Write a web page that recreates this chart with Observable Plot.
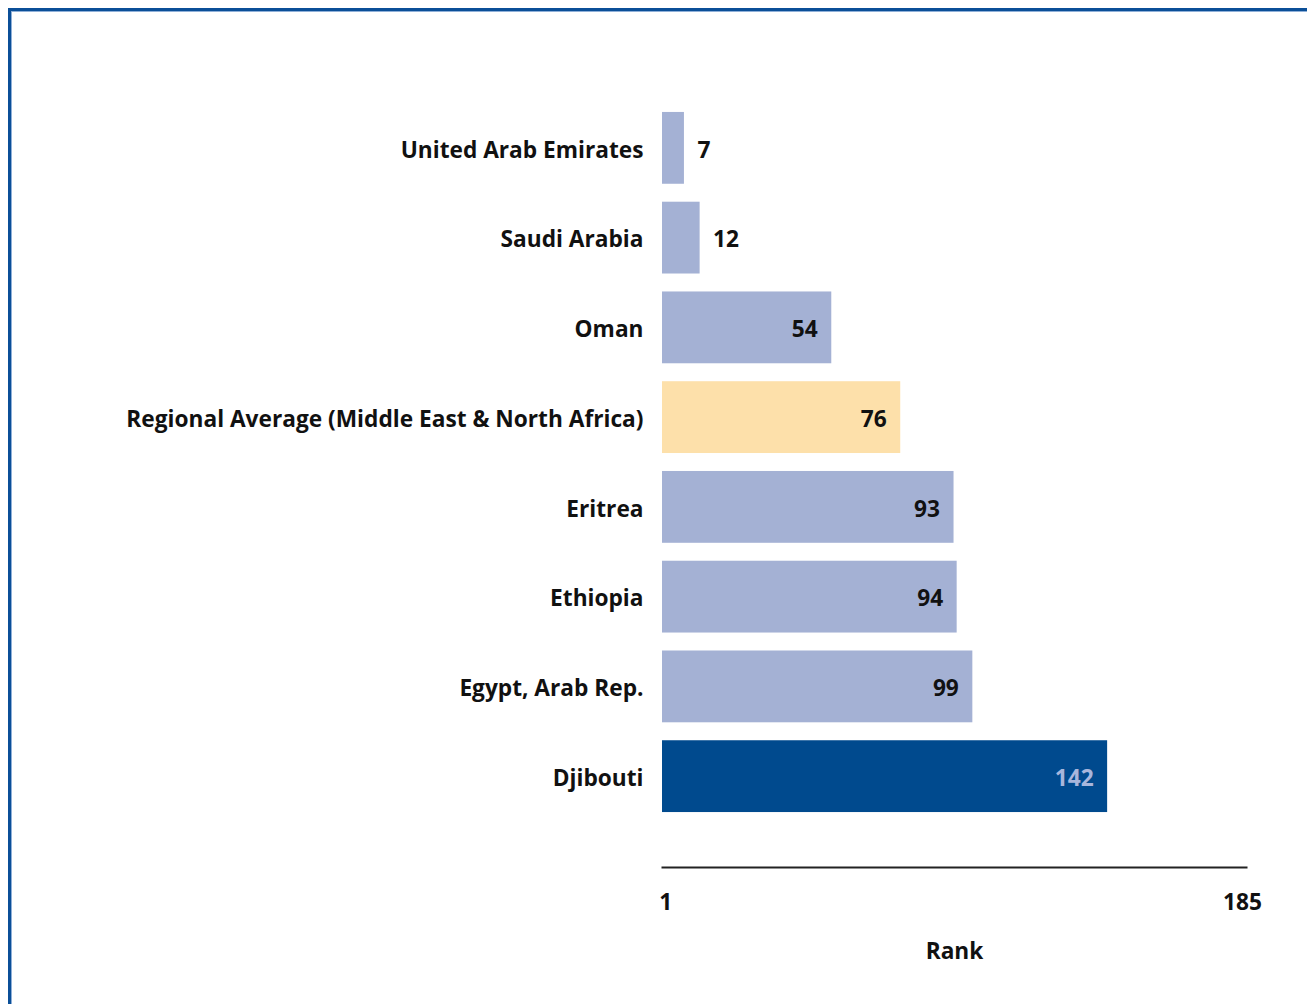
<!DOCTYPE html>
<html>
<head>
<meta charset="utf-8">
<script src="https://cdn.jsdelivr.net/npm/d3@7"></script>
<script src="https://cdn.jsdelivr.net/npm/@observablehq/plot@0.6"></script>
<style>
  html, body { margin: 0; padding: 0; background: #fff; }
  #wrap { position: relative; width: 1307px; height: 1004px; overflow: hidden; }
  #border { position: absolute; left: 8px; top: 8px; width: 1296px; height: 1100px;
    border-top: 3px solid #0b4f98; border-left: 3px solid #0b4f98; border-right: 2px solid #b5c8e2;
    box-shadow: inset 1px 1px 0 #8fb0d8; }
  #chart { position: absolute; left: 0; top: 0; }
</style>
</head>
<body>
<div id="wrap"><div id="border"></div><div id="chart"></div></div>
<script>
const countries = ["United Arab Emirates", "Saudi Arabia", "Oman", "Regional Average (Middle East & North Africa)", "Eritrea", "Ethiopia", "Egypt, Arab Rep.", "Djibouti"];
const ranks = [7, 12, 54, 76, 93, 94, 99, 142];
const kinds = ["peer", "peer", "peer", "average", "peer", "peer", "peer", "focus"];
const tickValues = [1, 185];
const axisTitle = "Rank";

const data = countries.map((c, i) => ({country: c, rank: ranks[i], kind: kinds[i]}));
const fillOf = {peer: "#a4b1d4", average: "#fde0aa", focus: "#004a8e"};
const labelColor = {peer: "#111", average: "#111", focus: "#a8b6dc"};
const font = "'Open Sans', sans-serif";
const fs = 22.7;

const chart = Plot.plot({
  width: 1307,
  height: 1004,
  marginLeft: 662,
  marginRight: 61,
  marginTop: 94,
  marginBottom: 137,
  style: {fontFamily: font, fontSize: fs + "px", fontWeight: "bold", color: "#111", background: "transparent"},
  x: {domain: [0, 186.3]},
  y: {domain: countries, range: [94, 830], padding: 0.2, round: false},
  marks: [
    Plot.barX(data, {x: "rank", y: "country", fill: d => fillOf[d.kind]}),
    Plot.text(data.filter(d => d.rank >= 20), {x: "rank", y: "country", text: d => String(d.rank), textAnchor: "end", dx: -14, dy: 2, fill: d => labelColor[d.kind], fontSize: fs, fontWeight: "bold"}),
    Plot.text(data.filter(d => d.rank < 20), {x: "rank", y: "country", text: d => String(d.rank), textAnchor: "start", dx: 13, dy: 2, fill: "#111", fontSize: fs, fontWeight: "bold"}),
    Plot.axisY({tickSize: 0, tickPadding: 19, dy: 2, label: null, fontSize: fs, fontWeight: "bold"}),
    Plot.axisX({ticks: tickValues, tickSize: 0, tickPadding: 26, tickFormat: d => String(d), label: axisTitle, labelAnchor: "center", labelArrow: "none", labelOffset: 91, fontSize: fs, fontWeight: "bold"}),
    Plot.frame({anchor: "bottom", stroke: "#222", strokeWidth: 2})
  ]
});
document.getElementById("chart").appendChild(chart);
</script>
</body>
</html>
